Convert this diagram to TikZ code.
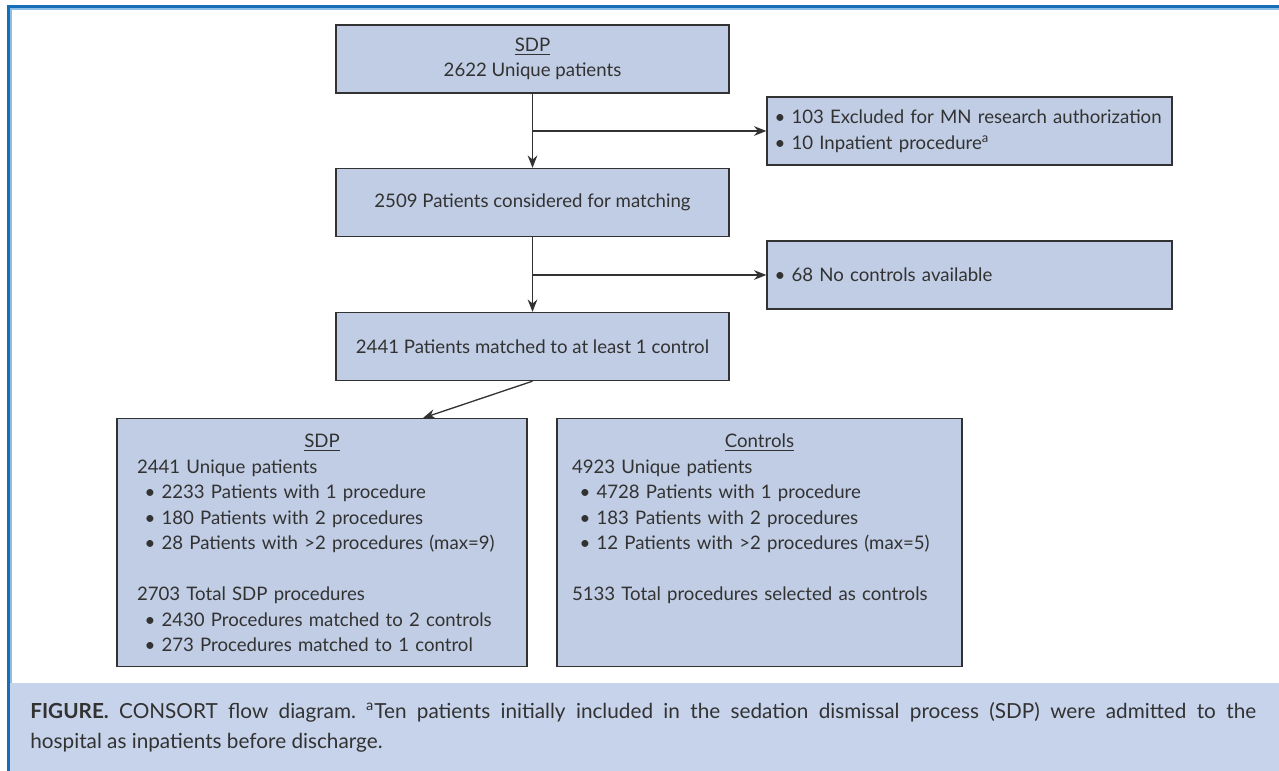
\documentclass[tikz,border=0pt]{standalone}
\usepackage{fontspec}
\setmainfont{Lato}
\usepackage{tikz}
\usetikzlibrary{arrows.meta, calc, positioning}

\definecolor{boxfill}{RGB}{192,205,228}
\definecolor{capfill}{RGB}{198,211,234}
\definecolor{framedark}{RGB}{22,110,185}
\definecolor{framelight}{RGB}{140,190,230}
\definecolor{ink}{RGB}{50,50,50}

\newcommand{\itm}{\hspace*{0.15cm}\textbullet\ }
\hyphenpenalty=10000
\exhyphenpenalty=10000
\frenchspacing

\tikzset{
  box/.style={draw=ink, line width=0.8pt, fill=boxfill, text=ink,
    font=\fontsize{10.6}{14.5}\selectfont},
  flowbox/.style={box, align=center, minimum width=7.86cm, minimum height=1.36cm},
  exclbox/.style={box, align=left, text width=7.8cm, inner xsep=0.15cm, minimum height=1.36cm},
  groupbox/.style={box, align=left, inner ysep=0pt, text height=0.58cm, text depth=4.38cm},
  arr/.style={draw=ink, line width=0.75pt, -{Stealth[length=7pt,width=5.5pt]}}
}

\begin{document}
\begin{tikzpicture}[x=0.02cm, y=-0.02cm]
    \useasboundingbox (0,0) rectangle (1279,771);
    % frame and caption band
    \fill[capfill] (10,683) rectangle (1279,771);
    \draw[framedark, line width=1.4pt] (8.5,771) -- (8.5,6.5) -- (1279,6.5);
    \draw[framelight, line width=0.6pt] (11,683) -- (11,9) -- (1279,9);
    % main flow
    \node[flowbox] (sdp) at (532.5,59) {\underline{SDP}\\ 2622 Unique patients};
    \node[flowbox] (match) at (532.5,202.5) {2509 Patients considered for matching};
    \node[flowbox] (matched) at (532.5,346.5) {2441 Patients matched to at least 1 control};
    % exclusions
    \node[exclbox] (excl1) at (969.5,131) {\textbullet\ 103 Excluded for MN research authorization\\
      \textbullet\ 10 Inpatient procedure\textsuperscript{a}};
    \node[exclbox] (excl2) at (969.5,275) {\textbullet\ 68 No controls available};
    % groups
    \node[groupbox, text width=7.4cm, inner xsep=0.4cm, anchor=north] (sdpgrp) at (322,418) {%
      \makebox[\linewidth]{\underline{SDP}}\\
      2441 Unique patients\\
      \itm 2233 Patients with 1 procedure\\
      \itm 180 Patients with 2 procedures\\
      \itm 28 Patients with >2 procedures (max=9)\\[14.5pt]
      2703 Total SDP procedures\\
      \itm 2430 Procedures matched to 2 controls\\
      \itm 273 Procedures matched to 1 control};
    \node[groupbox, text width=7.5cm, inner xsep=0.3cm, anchor=north] (ctrl) at (759.5,418) {%
      \makebox[\linewidth]{\underline{Controls}}\\
      4923 Unique patients\\
      \itm 4728 Patients with 1 procedure\\
      \itm 183 Patients with 2 procedures\\
      \itm 12 Patients with >2 procedures (max=5)\\[14.5pt]
      5133 Total procedures selected as controls};
    % connectors
    \draw[arr] (sdp.south) -- (match.north);
    \draw[arr] (sdp.south |- excl1.west) -- (excl1.west);
    \draw[arr] (match.south) -- (matched.north);
    \draw[arr] (match.south |- excl2.west) -- (excl2.west);
    \draw[arr] (matched.south) -- ([xshift=2.02cm]sdpgrp.north);
    % caption
    \node[anchor=base west, text width=24.52cm, align=justify, inner sep=0pt, text=ink,
      font=\fontsize{11.8}{17.6}\selectfont] (cap) at (30,718) {\textbf{FIGURE.} CONSORT flow diagram.
      \textsuperscript{a}Ten patients initially included in the sedation dismissal process (SDP)
      were admitted to the\linebreak hospital as inpatients before discharge.};
\end{tikzpicture}
\end{document}
